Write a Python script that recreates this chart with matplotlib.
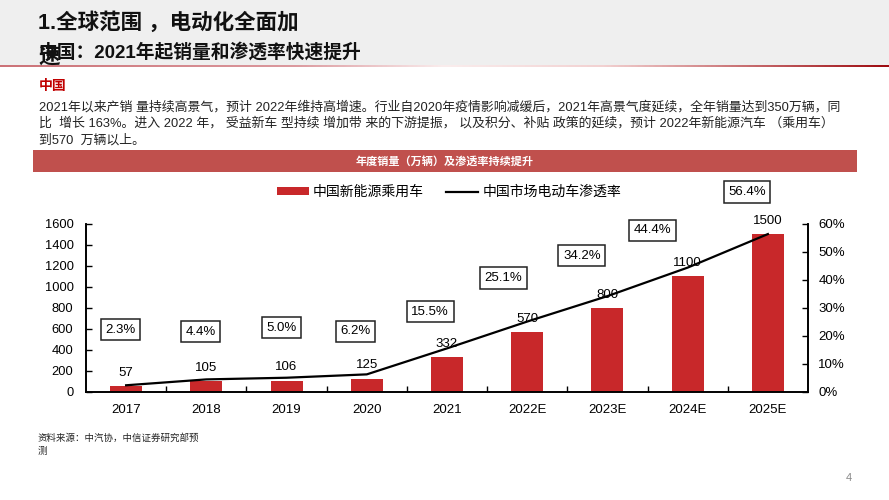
import numpy as np
import matplotlib
matplotlib.use('Agg')
import matplotlib.pyplot as plt
from matplotlib.colors import LinearSegmentedColormap
from matplotlib.patches import Rectangle
from matplotlib.lines import Line2D

plt.rcParams['font.family'] = ['Liberation Sans', 'Noto Sans CJK SC', 'DejaVu Sans']

years = ['2017', '2018', '2019', '2020', '2021', '2022E', '2023E', '2024E', '2025E']
sales = [57, 105, 106, 125, 332, 570, 800, 1100, 1500]
penetration = [2.3, 4.4, 5.0, 6.2, 15.5, 25.1, 34.2, 44.4, 56.4]
pct_labels = ['2.3%', '4.4%', '5.0%', '6.2%', '15.5%', '25.1%', '34.2%', '44.4%', '56.4%']

# where the boxed % labels sit (left axis units / category offset)
box_y = [593, 572, 612, 575, 763, 1085, 1298, 1540, 1905]
box_dx = [-0.07, -0.07, -0.06, -0.14, -0.21, -0.30, -0.32, -0.44, -0.26]

W, H = 889, 500
fig = plt.figure(figsize=(W / 100, H / 100), dpi=100)


def fx(x):
    return x / W


def fy(y):
    return 1 - y / H


# header background
fig.patches.append(Rectangle((0, fy(65)), 1, 65 / H, transform=fig.transFigure,
                             facecolor='#efefef', edgecolor='none', zorder=0))
# gradient rule under header
cmap = LinearSegmentedColormap.from_list('rule', [
    (0.0, (0.80, 0.45, 0.47)), (0.33, (0.86, 0.60, 0.62)), (0.5, (0.98, 0.93, 0.93)),
    (0.68, (0.95, 0.82, 0.82)), (1.0, (0.62, 0.05, 0.07))])
rax = fig.add_axes([0, fy(67), 1, 2.5 / H])
rax.imshow(np.linspace(0, 1, 400)[None, :], aspect='auto', cmap=cmap)
rax.axis('off')

fig.text(fx(38), fy(23), '1.全球范围 ，电动化全面加', fontsize=15.5, fontweight='bold',
         va='center', ha='left', color='#111111')
fig.text(fx(38), fy(52), '中国：2021年起销量和渗透率快速提升', fontsize=13.5, fontweight='bold',
         va='center', ha='left', color='#111111')
fig.text(fx(38), fy(57), '速', fontsize=15.5, fontweight='bold', va='center', ha='left',
         color='#111111')

fig.text(fx(39), fy(86), '中国', fontsize=10, fontweight='bold', color='#c00000',
         va='center', ha='left')
para = ['2021年以来产销 量持续高景气，预计 2022年维持高增速。行业自2020年疫情影响减缓后，2021年高景气度延续，全年销量达到350万辆，同',
        '比  增长 163%。进入 2022 年， 受益新车 型持续 增加带 来的下游提振， 以及积分、补贴 政策的延续，预计 2022年新能源汽车 （乘用车）',
        '到570  万辆以上。']
for i, line in enumerate(para):
    fig.text(fx(39), fy(107 + 16.5 * i), line, fontsize=9.3, color='#222222',
             va='center', ha='left')

# red banner
fig.patches.append(Rectangle((fx(33), fy(172)), (857 - 33) / W, 22 / H,
                             transform=fig.transFigure, facecolor='#c0504d',
                             edgecolor='none', zorder=0))
fig.text(fx(445), fy(161), '年度销量（万辆）及渗透率持续提升', fontsize=8, fontweight='bold',
         color='white', va='center', ha='center')

# chart
ax = fig.add_axes([fx(86), fy(391.7), (808 - 86) / W, (391.7 - 224) / H])
x = np.arange(len(years))
ax.bar(x, sales, width=0.4, color='#c8282a', zorder=2)
ax.set_xlim(-0.5, len(years) - 0.5)
ax.set_ylim(0, 1600)
ax.set_yticks(range(0, 1601, 200))
ax.set_xticks(x)
ax.set_xticklabels(years, fontsize=9.5)
ax.set_xticks(x[:-1] + 0.5, minor=True)
ax.tick_params(axis='x', which='major', length=0, pad=9)
ax.tick_params(axis='x', which='minor', direction='in', length=4, width=1)
ax.tick_params(axis='y', direction='in', length=4, width=1, labelsize=9.3, pad=9)
ax.spines['top'].set_visible(False)
for s in ['left', 'right', 'bottom']:
    ax.spines[s].set_linewidth(1.2)

for xi, v in zip(x, sales):
    ax.annotate(str(v), (xi, v), xytext=(0, 9.5), textcoords='offset points',
                ha='center', va='center', fontsize=9.5, zorder=5)

ax2 = ax.twinx()
ax2.plot(x, penetration, color='black', lw=1.6, zorder=4)
ax2.set_ylim(0, 60)
ax2.set_yticks(range(0, 61, 10))
ax2.set_yticklabels([f'{v}%' for v in range(0, 61, 10)])
ax2.tick_params(axis='y', direction='in', length=4, width=1, labelsize=9.5, pad=7.5)
ax2.spines['top'].set_visible(False)
for s in ['left', 'right', 'bottom']:
    ax2.spines[s].set_linewidth(1.2)

for xi, lab, by, dx in zip(x, pct_labels, box_y, box_dx):
    ax.text(xi + dx, by, lab, ha='center', va='center', fontsize=9.5, clip_on=False,
            bbox=dict(boxstyle='square,pad=0.35', facecolor='white',
                      edgecolor='#222222', linewidth=1.1), zorder=6)

# legend
handles = [Rectangle((0, 0), 1, 1, facecolor='#c8282a'),
           Line2D([0], [0], color='black', lw=1.6)]
fig.legend(handles, ['中国新能源乘用车', '中国市场电动车渗透率'], loc='center',
           bbox_to_anchor=(fx(449), fy(192)), ncol=2, frameon=False, fontsize=10,
           handlelength=2.3, handleheight=0.5, columnspacing=1.6, handletextpad=0.3)

fig.text(fx(38), fy(438), '资料来源：中汽协，中信证券研究部预', fontsize=6.8, color='#222222',
         va='center', ha='left')
fig.text(fx(38), fy(451), '测', fontsize=6.8, color='#222222', va='center', ha='left')
fig.text(fx(849), fy(478), '4', fontsize=8, color='#888888', va='center', ha='center')

fig.savefig('out.png', dpi=100)
